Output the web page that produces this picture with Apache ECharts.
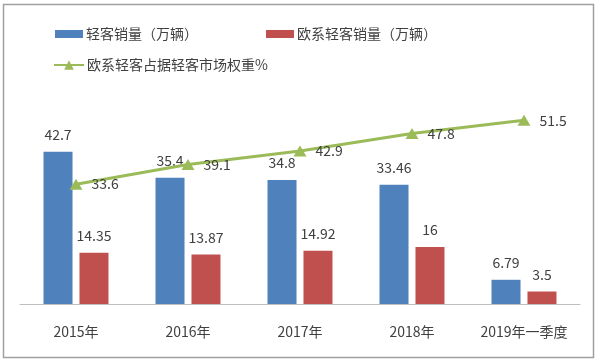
<!DOCTYPE html>
<html><head><meta charset="utf-8">
<script src="https://cdn.jsdelivr.net/npm/echarts@6/dist/echarts.min.js"></script>
<style>html,body{margin:0;padding:0;background:#fff}#c{width:600px;height:362px}</style>
</head><body><div id="c"></div>
<script>
var categories = ['2015年','2016年','2017年','2018年','2019年一季度'];
var lcvSales = [42.7, 35.4, 34.8, 33.46, 6.79];
var euLcvSales = [14.35, 13.87, 14.92, 16, 3.5];
var euShare = [33.6, 39.1, 42.9, 47.8, 51.5];
var seriesNames = ['轻客销量（万辆）','欧系轻客销量（万辆）','欧系轻客占据轻客市场权重%'];

var font = '"Noto Sans CJK SC", sans-serif';
var txt = '#404040';
var chart = echarts.init(document.getElementById('c'));
chart.setOption({
  animation: false,
  textStyle: {fontFamily: font},
  graphic: [{type:'rect', shape:{x:3.5,y:4.5,width:590,height:353}, style:{fill:'none', stroke:'#a0a0a0', lineWidth:1.5}, z:-1}],
  legend: [
    {data:[seriesNames[0], seriesNames[1]], left:50, top:22, itemWidth:28, itemHeight:8, itemGap:68,
     textStyle:{fontSize:14, color:txt, fontFamily:font, padding:[0,0,0,-2]}, icon:'rect'},
    {data:[seriesNames[2]], left:48, top:53, itemWidth:30, itemHeight:12, 
     textStyle:{fontSize:14, color:txt, fontFamily:font, padding:[0,0,0,-2]}}
  ],
  grid: {left:20, right:20, top:90, bottom:58, containLabel:false},
  xAxis: {type:'category', data:categories,
    axisLine:{lineStyle:{color:'#bfbfbf', width:1}}, axisTick:{show:false},
    axisLabel:{color:txt, fontSize:14, margin:21, fontFamily:font, interval:0}},
  yAxis: {type:'value', min:0, max:60, show:false, splitLine:{show:false}},
  series: [
    {name:seriesNames[0], type:'bar', data:lcvSales, barWidth:29, barGap:'24%',
     itemStyle:{color:'#4F81BD'},
     label:{show:true, position:'top', distance:10, color:txt, fontSize:14, fontFamily:font}},
    {name:seriesNames[1], type:'bar', data:euLcvSales, barWidth:29,
     itemStyle:{color:'#C0504D'},
     label:{show:true, position:'top', distance:10, color:txt, fontSize:14, fontFamily:font}},
    {name:seriesNames[2], type:'line', data:euShare, symbol:'triangle', symbolSize:[13,11],
     lineStyle:{color:'#9BBB59', width:3}, itemStyle:{color:'#9BBB59'},
     label:{show:true, position:'right', distance:9, color:txt, fontSize:14, fontFamily:font}, z:5}
  ]
});
</script></body></html>
